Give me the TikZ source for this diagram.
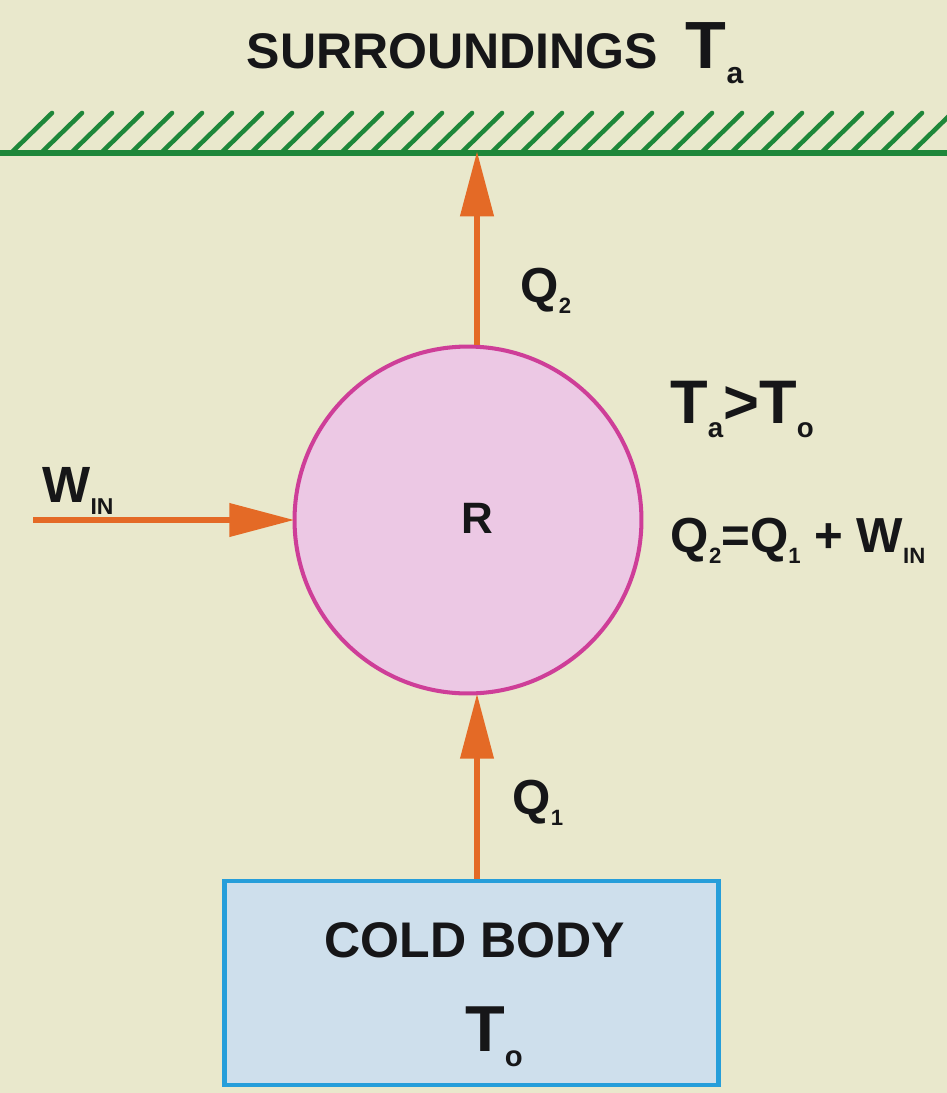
\documentclass[tikz,border=0pt]{standalone}
\usepackage{graphicx}
\usepackage{fontspec}
\setmainfont{Liberation Sans}
\usetikzlibrary{arrows.meta}
\definecolor{paper}{RGB}{233,232,204}
\definecolor{wallgreen}{RGB}{30,135,58}
\definecolor{heatorange}{RGB}{228,106,38}
\definecolor{cyclefill}{RGB}{236,200,228}
\definecolor{cycleline}{RGB}{206,62,152}
\definecolor{coldfill}{RGB}{206,223,236}
\definecolor{coldline}{RGB}{38,158,218}
\definecolor{ink}{RGB}{22,22,24}
% dropped subscript, as printed in the book
\newcommand{\lo}[1]{\raisebox{-0.45ex}{\scalebox{0.45}{#1}}}
\tikzset{heat/.style={draw=heatorange, line width=3.3pt,
           -{Triangle[length=37pt,width=18.5pt]}, shorten >=-1pt},
         hatch/.style={wallgreen, line width=2.6pt, line cap=round},
         lbl/.style={text=ink, font=\bfseries\fontsize{#1}{#1}\selectfont,
           inner sep=0pt, anchor=base},
         lbl/.default=28pt}

\begin{document}
\begin{tikzpicture}[x=0.02cm, y=-0.02cm]
    \useasboundingbox (0,0) rectangle (947,1093);
    \fill[paper] (0,0) rectangle (947,1093);
    \clip (0,0) rectangle (947,1093);

    % the surroundings: a hatched wall
    \coordinate (wall) at (0,153);
    \foreach \x in {52,82,...,952}
      \draw[hatch] (\x-40,152) -- (\x,113);
    \draw[wallgreen, line width=3.6pt] (wall) -- (947,153);
    \node[lbl=28.5pt] (surr) at (495,68)
      {SURROUNDINGS\hspace{0.55em}{\fontsize{38pt}{38pt}\selectfont T\lo{a}}};

    % the refrigerator and the cold body
    \node[circle, draw=cycleline, fill=cyclefill, line width=2.3pt,
          minimum size=6.94cm, inner sep=0pt] (rc) at (468,520) {};
    \node[lbl=25pt] (rlbl) at (477,533) {R};
    \node[draw=coldline, fill=coldfill, line width=2.8pt, minimum width=9.9cm,
          minimum height=4.08cm, inner sep=0pt] (cold) at (471.5,983) {};
    \node[lbl=28.5pt] (coldlbl) at (475,957) {COLD BODY};
    \node[lbl=37pt] (coldT) at (494,1051) {T\lo{o}};

    % heat and work flows
    \coordinate (win) at (33,520);
    \coordinate (qx) at (477,0);
    \draw[heat] (win) -- (rc.west);
    \draw[heat] (qx |- rc.north) -- (qx |- wall);
    \draw[heat] (qx |- cold.north) -- (qx |- rc.south);
    \node[lbl=29pt] (wlbl) at (78,502) {W\lo{IN}};
    \node[lbl=28pt] (q2lbl) at (546,302) {Q\lo{2}};
    \node[lbl=28pt] (q1lbl) at (538,814) {Q\lo{1}};

    % relations
    \node[lbl=35pt] (trel) at (742,423) {T\lo{a}>T\lo{o}};
    \node[lbl=28pt] (qrel) at (798,552) {Q\lo{2}=Q\lo{1} + W\lo{IN}};
\end{tikzpicture}
\end{document}
